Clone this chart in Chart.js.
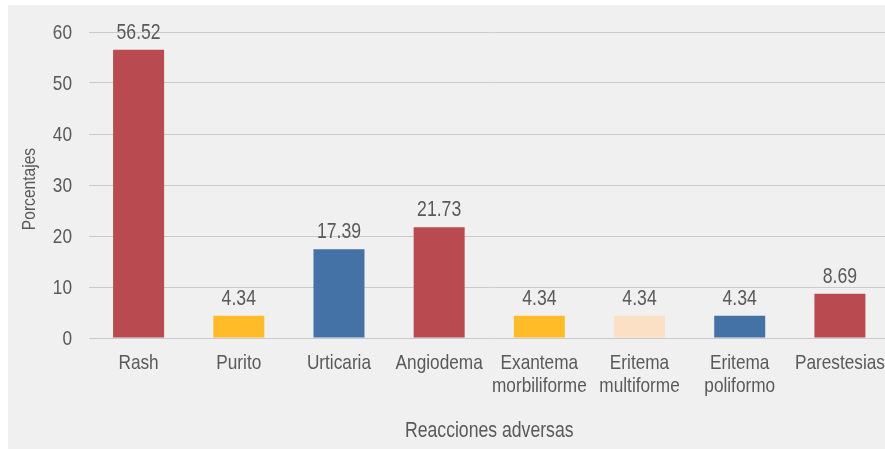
<!DOCTYPE html>
<html>
<head>
<meta charset="utf-8">
<script src="https://cdn.jsdelivr.net/npm/chart.js@4/dist/chart.umd.min.js"></script>
<style>
  html, body { margin: 0; padding: 0; background: #ffffff; overflow: hidden; width: 885px; height: 449px; }
  #wrap { position: absolute; left: 8px; top: 5px; width: 882px; height: 444px; background: #f0f0f0; }
  canvas { display: block; }
</style>
</head>
<body>
<div id="wrap"><canvas id="c" width="882" height="444"></canvas></div>
<script>
const categories = ["Rash", "Purito", "Urticaria", "Angiodema", ["Exantema", "morbiliforme"], ["Eritema", "multiforme"], ["Eritema", "poliformo"], "Parestesias"];
const values = [56.52, 4.34, 17.39, 21.73, 4.34, 4.34, 4.34, 8.69];
const barColors = ["#B94A4F", "#FFBB28", "#4472A6", "#B94A4F", "#FFBB28", "#FCE0C5", "#4472A6", "#B94A4F"];
const yTicks = [0, 10, 20, 30, 40, 50, 60];
const xTitle = "Reacciones adversas";
const yTitle = "Porcentajes";

const FONT = "'Liberation Sans', Arial, sans-serif";
const TXT = "#595959";
const NARROW = 0.82;

function narrowText(ctx, text, x, y, size, align, rotate) {
  ctx.save();
  ctx.translate(x, y);
  if (rotate) ctx.rotate(-Math.PI / 2);
  ctx.scale(NARROW, 1);
  ctx.font = size + "px " + FONT;
  ctx.fillStyle = TXT;
  ctx.textAlign = align;
  ctx.textBaseline = 'alphabetic';
  ctx.fillText(text, 0, 0);
  ctx.restore();
}

const textPlugin = {
  id: 'narrowTexts',
  afterDraw(chart) {
    const ctx = chart.ctx;
    const xs = chart.scales.x, ys = chart.scales.y, area = chart.chartArea;
    // y tick labels
    ys.ticks.forEach(t => {
      narrowText(ctx, String(t.value), area.left - 16.5, ys.getPixelForValue(t.value) + 7, 21, 'right');
    });
    // x tick labels
    categories.forEach((lab, i) => {
      const lines = Array.isArray(lab) ? lab : [lab];
      const x = xs.getPixelForValue(i);
      lines.forEach((ln, j) => {
        narrowText(ctx, ln, x, area.bottom + 30.5 + j * 23, 21, 'center');
      });
    });
    // value labels
    chart.getDatasetMeta(0).data.forEach((bar, i) => {
      narrowText(ctx, String(values[i]), bar.x, bar.y - 11, 21.5, 'center');
    });
    // axis titles
    narrowText(ctx, xTitle, (area.left + area.right) / 2, area.bottom + 99, 21.5, 'center');
    narrowText(ctx, yTitle, 27, (area.top + area.bottom) / 2 + 4, 19, 'center', true);
  }
};

new Chart(document.getElementById('c'), {
  type: 'bar',
  data: {
    labels: categories,
    datasets: [{
      data: values,
      backgroundColor: barColors,
      borderWidth: 0,
      barPercentage: 0.509,
      categoryPercentage: 1.0
    }]
  },
  options: {
    responsive: false,
    maintainAspectRatio: false,
    animation: false,
    events: [],
    layout: { padding: { top: 27, right: 0, bottom: 0, left: 0 } },
    plugins: {
      legend: { display: false },
      tooltip: { enabled: false }
    },
    scales: {
      x: {
        grid: { display: false, drawTicks: false },
        border: { display: false },
        ticks: { display: false },
        afterFit(scale) { scale.height = 111; }
      },
      y: {
        min: 0,
        max: 60,
        afterBuildTicks(scale) { scale.ticks = yTicks.map(v => ({ value: v })); },
        grid: { color: "#cacaca", lineWidth: 1, drawTicks: false },
        border: { display: false },
        ticks: { display: false },
        afterFit(scale) { scale.width = 80.5; }
      }
    }
  },
  plugins: [textPlugin]
});
</script>
</body>
</html>
